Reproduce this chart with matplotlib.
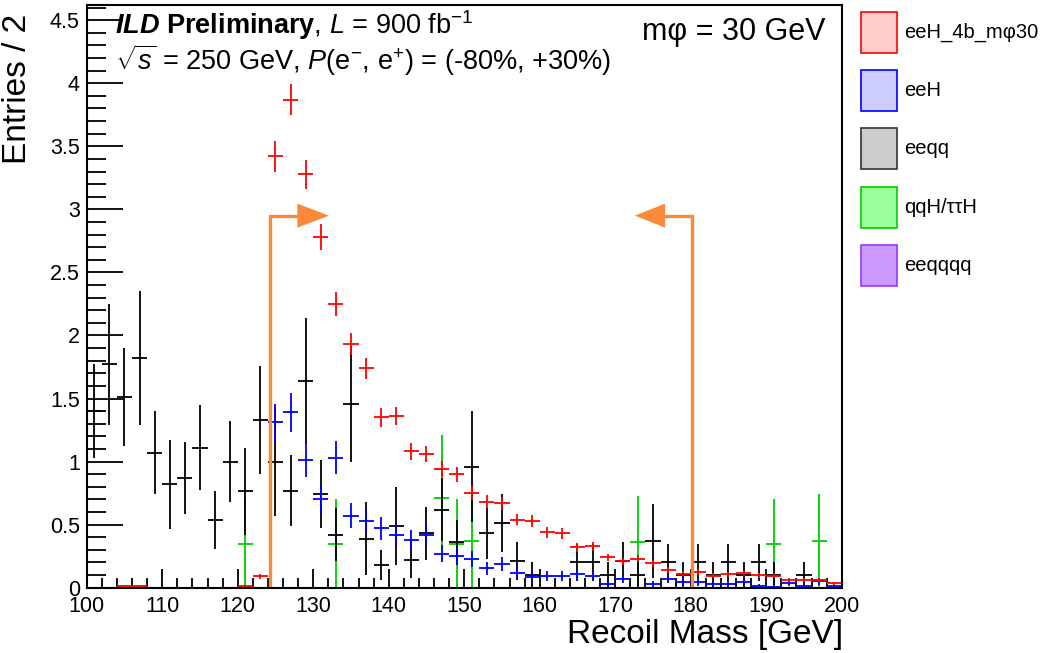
import numpy as np
import matplotlib
matplotlib.use("Agg")
import matplotlib.pyplot as plt
from matplotlib.patches import Rectangle, Polygon
from matplotlib.ticker import MultipleLocator, FuncFormatter

plt.rcParams['font.family'] = ['Liberation Sans', 'DejaVu Sans']
plt.rcParams['mathtext.fontset'] = 'custom'
plt.rcParams['mathtext.rm'] = 'Liberation Sans'
plt.rcParams['mathtext.it'] = 'Liberation Sans:italic'
plt.rcParams['mathtext.bf'] = 'Liberation Sans:bold'
plt.rcParams['mathtext.bfit'] = 'Liberation Sans:italic:bold'

# binning: 2 GeV bins from 100 to 200
edges = np.arange(100, 201, 2)
centers = edges[:-1] + 1

# signal eeH_4b_mphi30
sig = [0, 0, 0.01, 0.01, 0, 0, 0, 0, 0, 0,
       0.01, 0.09, 3.42, 3.87, 3.28, 2.78, 2.25, 1.93, 1.74, 1.35,
       1.36, 1.08, 1.06, 0.94, 0.90, 0.75, 0.68, 0.67, 0.54, 0.53,
       0.44, 0.43, 0.32, 0.33, 0.24, 0.21, 0.23, 0.195, 0.14, 0.11,
       0.125, 0.095, 0.105, 0.115, 0.10, 0.095, 0.063, 0.063, 0.063, 0.037]
sig_err = [0, 0, 0.006, 0.006, 0, 0, 0, 0, 0, 0,
           0.006, 0.02, 0.12, 0.125, 0.115, 0.105, 0.095, 0.088, 0.083, 0.073,
           0.073, 0.065, 0.065, 0.061, 0.06, 0.055, 0.052, 0.052, 0.046, 0.046,
           0.042, 0.041, 0.036, 0.036, 0.031, 0.029, 0.03, 0.028, 0.024, 0.021,
           0.022, 0.019, 0.02, 0.021, 0.02, 0.019, 0.016, 0.016, 0.016, 0.012]

# eeH
eeh = [0, 0, 0, 0, 0, 0, 0, 0, 0, 0,
       0, 0, 1.31, 1.39, 1.01, 0.70, 1.03, 0.57, 0.53, 0.47,
       0.42, 0.38, 0.42, 0.27, 0.25, 0.23, 0.155, 0.19, 0.12, 0.085,
       0.09, 0.09, 0.105, 0.09, 0.03, 0.068, 0, 0.03, 0.068, 0.045,
       0.042, 0.03, 0.03, 0.047, 0.016, 0.008, 0.037, 0.016, 0.05, 0.01]
eeh_err = [0, 0, 0, 0, 0, 0, 0, 0, 0, 0,
           0, 0, 0.15, 0.153, 0.13, 0.109, 0.132, 0.098, 0.095, 0.089,
           0.084, 0.08, 0.084, 0.068, 0.065, 0.062, 0.051, 0.057, 0.045, 0.038,
           0.039, 0.039, 0.042, 0.039, 0.023, 0.034, 0, 0.023, 0.034, 0.028,
           0.027, 0.023, 0.023, 0.028, 0.016, 0.012, 0.025, 0.016, 0.029, 0.013]

# eeqq
eeqq = [1.40, 1.77, 1.51, 1.82, 1.07, 0.82, 0.87, 1.11, 0.54, 1.00,
        0.765, 1.33, 1.00, 0.77, 1.64, 0.74, 0.42, 1.46, 0.39, 0.18,
        0.49, 0.22, 0.43, 0.62, 0.36, 0.96, 0.43, 0.51, 0.21, 0.10,
        0, 0, 0.20, 0.20, 0.10, 0.21, 0.10, 0.37, 0.20, 0.10,
        0.20, 0.10, 0.20, 0.10, 0.20, 0.10, 0, 0.10, 0, 0]
eeqq_err = [0.375, 0.48, 0.39, 0.53, 0.33, 0.355, 0.285, 0.335, 0.23, 0.32,
            0.345, 0.43, 0.43, 0.28, 0.5, 0.27, 0.21, 0.46, 0.29, 0.12,
            0.31, 0.14, 0.21, 0.25, 0.18, 0.44, 0.2, 0.23, 0.15, 0.10,
            0, 0, 0.15, 0.15, 0.10, 0.15, 0.10, 0.29, 0.15, 0.10,
            0.15, 0.10, 0.15, 0.10, 0.15, 0.10, 0, 0.10, 0, 0]

# qqH / tautauH
qqh = [0, 0, 0, 0, 0, 0, 0, 0, 0, 0,
       0.35, 0, 0, 0, 0, 0, 0.35, 0, 0, 0,
       0, 0, 0, 0.71, 0.35, 0.37, 0, 0, 0, 0,
       0, 0, 0, 0, 0, 0, 0.365, 0, 0, 0,
       0, 0, 0, 0, 0, 0.35, 0, 0, 0.37, 0]
qqh_err = [0, 0, 0, 0, 0, 0, 0, 0, 0, 0,
           0.35, 0, 0, 0, 0, 0, 0.35, 0, 0, 0,
           0, 0, 0, 0.5, 0.35, 0.37, 0, 0, 0, 0,
           0, 0, 0, 0, 0, 0, 0.365, 0, 0, 0,
           0, 0, 0, 0, 0, 0.35, 0, 0, 0.37, 0]

# cut window arrows
cut_lo = 124.3
cut_hi = 180.2
arrow_y = 2.95

legend_names = ["eeH_4b_m\u03c630", "eeH", "eeqq", "qqH/\u03c4\u03c4H", "eeqqqq"]
legend_edge = ["#ff0000", "#0000ff", "#333333", "#00cc00", "#9933ff"]
legend_fill = ["#ffcccc", "#ccccff", "#cccccc", "#99ff99", "#cc99ff"]

fig = plt.figure(figsize=(10.51, 6.53), dpi=100)
ax = fig.add_axes([0.0825, 0.100, 0.7184, 0.8923])

def draw(vals, errs, col):
    v = np.array(vals, dtype=float)
    e = np.array(errs, dtype=float)
    m = v > 0
    ax.errorbar(centers[m], v[m], xerr=1.0, yerr=e[m], fmt='none',
                ecolor=col, elinewidth=1.3, capsize=0)

# drawing order: green, black, blue, red on top
draw(qqh, qqh_err, "#00cc00")
draw(eeqq, eeqq_err, "#000000")
draw(eeh, eeh_err, "#0000ff")
draw(sig, sig_err, "#ff0000")

# cut arrows
orange = "#f98a3a"
ax.plot([cut_lo, cut_lo, 128.0], [0, arrow_y, arrow_y], color=orange, lw=2.4,
        solid_joinstyle='miter')
ax.add_patch(Polygon([[127.9, arrow_y + 0.095], [127.9, arrow_y - 0.095], [132.1, arrow_y]],
                     closed=True, color=orange, lw=0))
ax.plot([cut_hi, cut_hi, 176.7], [0, arrow_y, arrow_y], color=orange, lw=2.4,
        solid_joinstyle='miter')
ax.add_patch(Polygon([[176.6, arrow_y + 0.095], [176.6, arrow_y - 0.095], [172.6, arrow_y]],
                     closed=True, color=orange, lw=0))

ax.set_xlim(100, 200)
ax.set_ylim(0, 4.62)
ax.xaxis.set_major_locator(MultipleLocator(10))
ax.xaxis.set_minor_locator(MultipleLocator(2))
ax.yaxis.set_major_locator(MultipleLocator(0.5))
ax.yaxis.set_minor_locator(MultipleLocator(0.1))
ax.yaxis.set_major_formatter(FuncFormatter(lambda v, p: "%g" % v))
ax.tick_params(axis='both', which='both', direction='in', top=False, right=False,
               labelsize=15.5, width=1.3)
ax.tick_params(axis='x', which='major', length=14, pad=6)
ax.tick_params(axis='x', which='minor', length=7)
ax.tick_params(axis='y', which='major', length=26, pad=5)
ax.tick_params(axis='y', which='minor', length=14)
for s in ax.spines.values():
    s.set_linewidth(1.5)

# axis titles (ROOT style, at the ends)
fig.text(843 / 1051, 1 - 643 / 653, "Recoil Mass [GeV]", fontsize=24,
         ha='right', va='baseline')
fig.text(18 / 1051, 1 - 14 / 653, "Entries / 2", fontsize=24, rotation=90,
         ha='center', va='top')

# labels in the frame
fig.text(115 / 1051, 1 - 34 / 653,
         r"$\mathbfit{ILD}$ $\mathbf{Preliminary}$, $L$ = 900 fb$^{-1}$",
         fontsize=19.5, ha='left', va='baseline')
fig.text(115 / 1051, 1 - 70 / 653,
         r"$\sqrt{s}$ = 250 GeV, $P$(e$^{-}$, e$^{+}$) = (-80%, +30%)",
         fontsize=19.5, ha='left', va='baseline')
fig.text(826 / 1051, 1 - 40 / 653, "m\u03c6 = 30 GeV", fontsize=22,
         ha='right', va='baseline')

# legend on the right
for i in range(len(legend_names)):
    ytop = 11.7 + i * 58.3
    fig.patches.append(Rectangle((861 / 1051, 1 - (ytop + 41) / 653), 36 / 1051, 41 / 653,
                                 transform=fig.transFigure, facecolor=legend_fill[i],
                                 edgecolor=legend_edge[i], lw=1.2))
    fig.text(904 / 1051, 1 - (ytop + 20.5) / 653, legend_names[i], fontsize=14.5,
             ha='left', va='center')

fig.savefig("out.png", dpi=100)
